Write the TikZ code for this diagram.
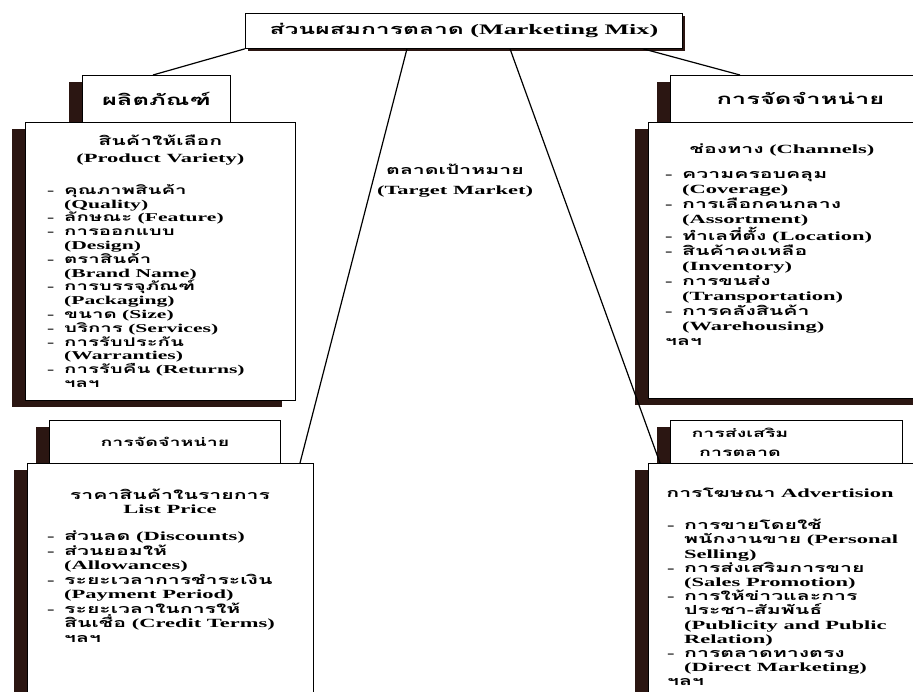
\documentclass[tikz,border=0pt]{standalone}
\usepackage{fontspec}
\setmainfont{Liberation Serif}[FakeStretch=1.8]
\newfontfamily\thaifont[Script=Thai,FakeStretch=1.7]{Loma}
\usetikzlibrary{positioning,shadows}
\definecolor{shadowbrown}{HTML}{2B1612}
\newcommand\tha[1]{{\thaifont #1}}
\newcommand\itm{\makebox[17pt][l]{-}}
\newcommand\cnt{\hspace*{17pt}}
\tikzset{
  panel/.style={draw, fill=white, line width=.8pt, inner sep=0pt, anchor=north west,
    general shadow={fill=shadowbrown, shadow xshift=-13pt, shadow yshift=-7pt}},
  headbox/.style={draw, fill=white, line width=.8pt, inner sep=0pt, anchor=north west,
    general shadow={fill=shadowbrown, shadow xshift=3pt, shadow yshift=-3pt}},
  items/.style={align=left, inner sep=0pt, anchor=north west,
    font=\bfseries\fontsize{12.5}{14.5}\selectfont},
  title/.style={align=center, inner sep=0pt, anchor=north,
    font=\bfseries\fontsize{12.5}{17}\selectfont},
  link/.style={line width=1.2pt}
}
\begin{document}
\begin{tikzpicture}[x=1pt,y=-1pt]
\clip (0,0) rectangle (913,691);

% top box
\node[headbox, minimum width=437pt, minimum height=35pt,
  font=\bfseries\fontsize{14.5}{18}\selectfont] (mix) at (245,13)
  {\tha{ส่วนผสมการตลาด} (Marketing Mix)};

% tabs
\node[panel, minimum width=148pt, minimum height=47pt,
  font=\bfseries\fontsize{15}{18}\selectfont] (prodtab) at (82,75) {\tha{ผลิตภัณฑ์}};
\node[panel, minimum width=260pt, minimum height=47pt,
  font=\bfseries\fontsize{15}{18}\selectfont] (placetab) at (670,75) {\tha{การจัดจำหน่าย}};
\node[panel, minimum width=231pt, minimum height=43pt,
  font=\bfseries\fontsize{11.5}{13}\selectfont] (pricetab) at (49,420) {\tha{การจัดจำหน่าย}};
\node[panel, minimum width=232pt, minimum height=43pt] (promotab) at (670,420) {};
\node[align=center, inner sep=0pt, font=\bfseries\fontsize{11.5}{19}\selectfont]
  (promotabtext) at (740,442) {\tha{การส่งเสริม}\\\tha{การตลาด}};

% big boxes
\node[panel, minimum width=270pt, minimum height=278pt] (prodbox) at (25,122) {};
\node[panel, minimum width=282pt, minimum height=276pt] (placebox) at (648,122) {};
\node[panel, minimum width=286pt, minimum height=240pt] (pricebox) at (27,463) {};
\node[panel, minimum width=282pt, minimum height=240pt] (promobox) at (648,463) {};

% product
\node[title, below=13pt of prodbox.north] (prodtitle)
  {\tha{สินค้าให้เลือก}\\(Product Variety)};
\node[items, font=\bfseries\fontsize{12}{13.8}\selectfont] (proditems)
  at ([xshift=22pt,yshift=-62pt]prodbox.north west)
  {\itm\tha{คุณภาพสินค้า}\\
   \cnt(Quality)\\
   \itm\tha{ลักษณะ} (Feature)\\
   \itm\tha{การออกแบบ}\\
   \cnt(Design)\\
   \itm\tha{ตราสินค้า}\\
   \cnt(Brand Name)\\
   \itm\tha{การบรรจุภัณฑ์}\\
   \cnt(Packaging)\\
   \itm\tha{ขนาด} (Size)\\
   \itm\tha{บริการ} (Services)\\
   \itm\tha{การรับประกัน}\\
   \cnt(Warranties)\\
   \itm\tha{การรับคืน} (Returns)\\
   \cnt\tha{ฯลฯ}};

% place
\node[title, anchor=center] (placetitle) at (782,150) {\tha{ช่องทาง} (Channels)};
\node[items, font=\bfseries\fontsize{12.5}{15}\selectfont] (placeitems)
  at ([xshift=17pt,yshift=-49pt]placebox.north west)
  {\itm\tha{ความครอบคลุม}\\
   \cnt(Coverage)\\
   \itm\tha{การเลือกคนกลาง}\\
   \cnt(Assortment)\\
   \itm\tha{ทำเลที่ตั้ง} (Location)\\
   \itm\tha{สินค้าคงเหลือ}\\
   \cnt(Inventory)\\
   \itm\tha{การขนส่ง}\\
   \cnt(Transportation)\\
   \itm\tha{การคลังสินค้า}\\
   \cnt(Warehousing)\\
   \tha{ฯลฯ}};

% target market
\node[title, font=\bfseries\fontsize{12.5}{20}\selectfont] (target) at (455,164)
  {\tha{ตลาดเป้าหมาย}\\(Target Market)};

% price
\node[title, anchor=center, font=\bfseries\fontsize{12.5}{14}\selectfont] (pricetitle)
  at (170,501) {\tha{ราคาสินค้าในรายการ}\\List Price};
\node[items] (priceitems) at ([xshift=20pt,yshift=-68pt]pricebox.north west)
  {\itm\tha{ส่วนลด} (Discounts)\\
   \itm\tha{ส่วนยอมให้}\\
   \cnt(Allowances)\\
   \itm\tha{ระยะเวลาการชำระเงิน}\\
   \cnt(Payment Period)\\
   \itm\tha{ระยะเวลาในการให้}\\
   \cnt\tha{สินเชื่อ} (Credit Terms)\\
   \cnt\tha{ฯลฯ}};

% promotion
\node[title, anchor=center] (promotitle) at (780,493) {\tha{การโฆษณา} Advertision};
\node[items, font=\bfseries\fontsize{12.5}{14.2}\selectfont] (promoitems)
  at ([xshift=19pt,yshift=-56pt]promobox.north west)
  {\itm\tha{การขายโดยใช้}\\
   \cnt\tha{พนักงานขาย} (Personal\\
   \cnt Selling)\\
   \itm\tha{การส่งเสริมการขาย}\\
   \cnt(Sales Promotion)\\
   \itm\tha{การให้ข่าวและการ}\\
   \cnt\tha{ประชา-สัมพันธ์}\\
   \cnt(Publicity and Public\\
   \cnt Relation)\\
   \itm\tha{การตลาดทางตรง}\\
   \cnt(Direct Marketing)\\
   \tha{ฯลฯ}};

% links
\draw[link] (mix.south west) -- ([xshift=71pt]prodtab.north west);
\draw[link] ([xshift=162pt]mix.south west) -- ([xshift=273pt]pricebox.north west);
\draw[link] ([xshift=265pt]mix.south west) -- ([xshift=12pt]promobox.north west);
\draw[link] ([xshift=398pt]mix.south west) -- ([xshift=70pt]placetab.north west);
\end{tikzpicture}
\end{document}
